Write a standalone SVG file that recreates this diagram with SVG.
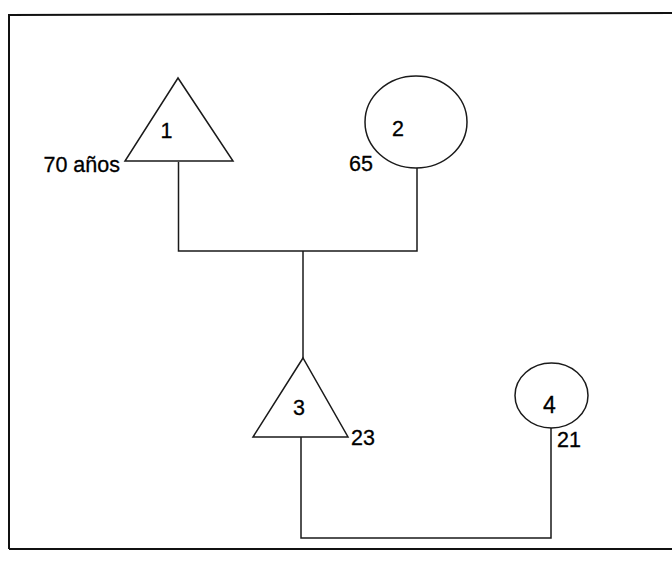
<svg xmlns="http://www.w3.org/2000/svg" width="672" height="561" viewBox="0 0 672 561">
<style>
.shape{fill:none;stroke:#1a1a1a;stroke-width:1.5}
.conn{fill:none;stroke:#1a1a1a;stroke-width:1.5}
.frame{fill:none;stroke:#111;stroke-width:2}
.lbl{font-family:"Liberation Sans",Arial,sans-serif;font-size:21.5px;fill:#000;stroke:#000;stroke-width:0.3}
</style>
<rect width="672" height="561" fill="#fff"/>
<polyline class="frame" points="9,549 9,15 672,13"/>
<line class="frame" x1="9" y1="549" x2="672" y2="549"/>
<g id="connectors">
<polyline class="conn" points="178.5,162 178.5,251 417,251 417,168"/>
<line class="conn" x1="303" y1="251" x2="303" y2="358"/>
<polyline class="conn" points="301,437 301,538 551,538 551,428"/>
</g>
<g id="node1">
<polygon class="shape" points="178,78 125,161 233,161"/>
<text class="lbl" x="166.5" y="138" text-anchor="middle">1</text>
<text class="lbl" x="120" y="172" text-anchor="end">70 años</text>
</g>
<g id="node2">
<ellipse class="shape" cx="416" cy="122" rx="51" ry="46"/>
<text class="lbl" x="398" y="136" text-anchor="middle">2</text>
<text class="lbl" x="349" y="171">65</text>
</g>
<g id="node3">
<polygon class="shape" points="303,358 253,437 348,437"/>
<text class="lbl" x="299" y="415" text-anchor="middle">3</text>
<text class="lbl" x="351" y="445">23</text>
</g>
<g id="node4">
<ellipse class="shape" cx="551.5" cy="395.5" rx="36.5" ry="32.5"/>
<text class="lbl" x="549.5" y="413" text-anchor="middle" style="font-size:23px">4</text>
<text class="lbl" x="557" y="447">21</text>
</g>
</svg>
